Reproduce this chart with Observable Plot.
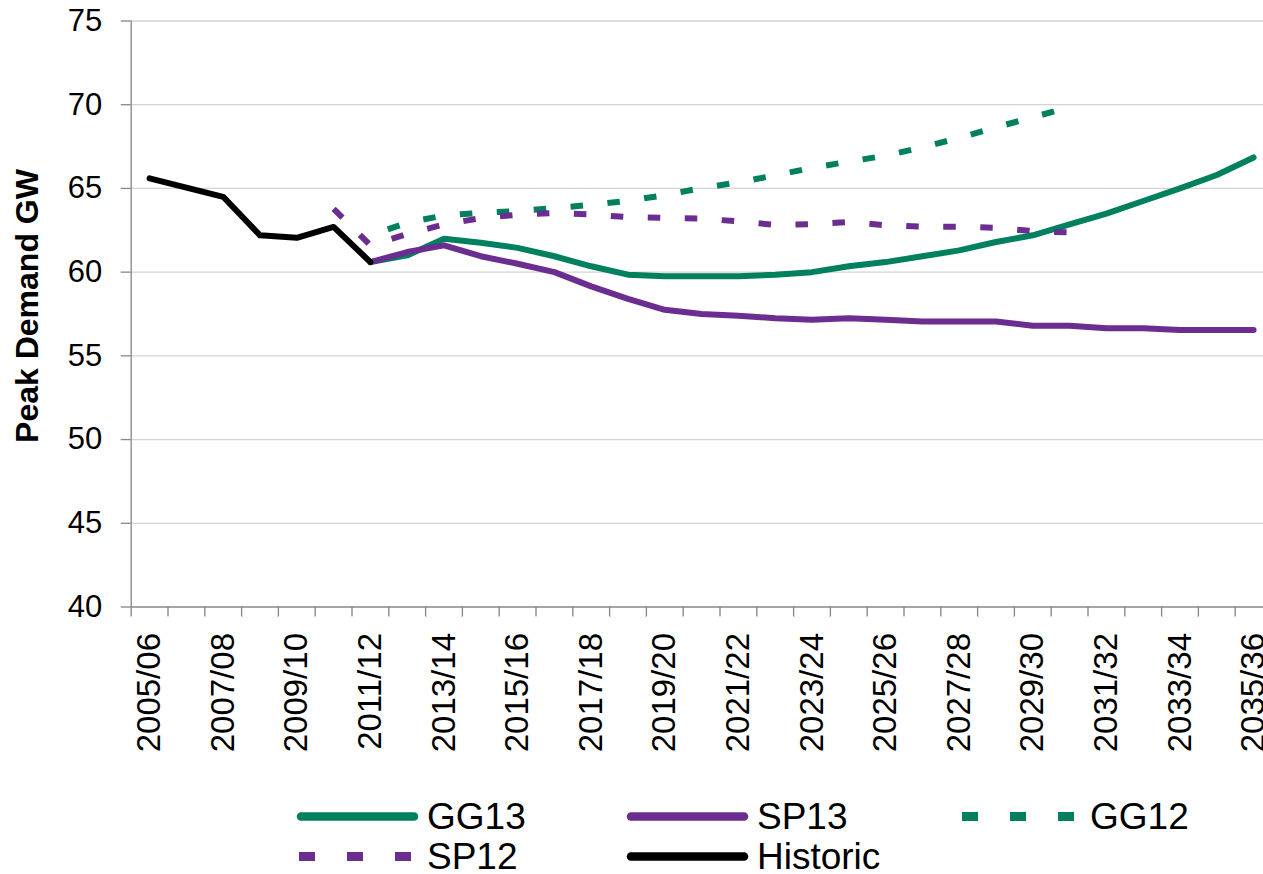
<!DOCTYPE html>
<html>
<head>
<meta charset="utf-8">
<script src="https://cdn.jsdelivr.net/npm/d3@7"></script>
<script src="https://cdn.jsdelivr.net/npm/@observablehq/plot@0.6"></script>
<style>
  html, body { margin: 0; padding: 0; background: #fff; overflow: hidden; }
  #wrap { position: relative; width: 1263px; height: 874px; font-family: "Liberation Sans", Arial, sans-serif; }
  #chart svg { display: block; overflow: visible; }
  .leg { position: absolute; display: flex; align-items: center; transform: translateY(-50%); font-size: 37px; color: #000; white-space: nowrap; line-height: 1; }
  .leg svg { display: block; margin-right: 9px; overflow: visible; }
</style>
</head>
<body>
<div id="wrap">
  <div id="chart"></div>
  <div id="legend"></div>
</div>
<script>
// ---- data ----
const categories = [
  "2005/06","2006/07","2007/08","2008/09","2009/10","2010/11","2011/12","2012/13",
  "2013/14","2014/15","2015/16","2016/17","2017/18","2018/19","2019/20","2020/21",
  "2021/22","2022/23","2023/24","2024/25","2025/26","2026/27","2027/28","2028/29",
  "2029/30","2030/31","2031/32","2032/33","2033/34","2034/35","2035/36"
];

const historic = [65.6, 65.05, 64.5, 62.2, 62.05, 62.7, 60.6,
  null, null, null, null, null, null, null, null, null, null, null, null, null,
  null, null, null, null, null, null, null, null, null, null, null];

const gg13 = [null, null, null, null, null, null,
  60.6, 61.0, 62.0, 61.75, 61.45, 60.95, 60.35, 59.85, 59.75, 59.75, 59.75, 59.85,
  60.0, 60.35, 60.6, 60.95, 61.3, 61.8, 62.2, 62.85, 63.5, 64.25, 65.0, 65.8, 66.85];

const sp13 = [null, null, null, null, null, null,
  60.6, 61.2, 61.6, 60.95, 60.5, 60.0, 59.15, 58.4, 57.75, 57.5, 57.4, 57.25,
  57.15, 57.25, 57.15, 57.05, 57.05, 57.05, 56.8, 56.8, 56.65, 56.65, 56.55, 56.55, 56.55];

const gg12 = [null, null, null, null, null, null,
  62.2, 62.95, 63.39, 63.54, 63.65, 63.82, 64.02, 64.26, 64.6, 65.02, 65.36, 65.78,
  66.23, 66.6, 66.96, 67.45, 68.02, 68.65, 69.25, 69.85,
  null, null, null, null, null];

const sp12 = [null, null, null, null, null,
  63.78, 61.6, 62.28, 62.85, 63.23, 63.43, 63.53, 63.44, 63.29, 63.24, 63.2, 63.03,
  62.82, 62.87, 62.99, 62.8, 62.71, 62.71, 62.65, 62.45, 62.37,
  null, null, null, null, null];

const yTicks = [40, 45, 50, 55, 60, 65, 70, 75];
const yTitle = "Peak Demand GW";

// series (draw order)
const seriesNames  = ["GG13", "SP13", "GG12", "SP12", "Historic"];
const seriesValues = [gg13, sp13, gg12, sp12, historic];

// ---- styles ----
const seriesColors     = ["#00805f", "#6b2d90", "#00805f", "#6b2d90", "#000000"];
const seriesDashed     = [false, false, true, true, false];
const seriesDashOffset = [0, 0, 18.7, 0, 0];
const legendLeft = [297, 627, 960, 297, 627];
const legendTop  = [816, 816, 816, 856, 856];

const axisColor = "#868686";
const gridColor = "#d3d3d3";
const font = "'Liberation Sans', Arial, sans-serif";

const xLabelIdx = categories.map((c, i) => i).filter(i => i % 2 === 0);
const boundaries = d3.range(categories.length + 1).map(i => i - 0.5);

const lineMarks = seriesValues.map((vals, k) => {
  const rows = vals.map((v, i) => ({i, v})).filter(d => d.v != null);
  return Plot.line(rows, {
    x: "i", y: "v",
    stroke: seriesColors[k],
    strokeWidth: 6,
    strokeLinejoin: "round",
    strokeLinecap: seriesDashed[k] ? "butt" : "round",
    strokeDasharray: seriesDashed[k] ? "12.5,24.5" : null,
    strokeDashoffset: seriesDashOffset[k]
  });
});

const chart = Plot.plot({
  width: 1263,
  height: 790,
  marginTop: 20.5,
  marginBottom: 183.5,
  marginLeft: 130.7,
  marginRight: 0,
  x: {domain: [-0.5, categories.length - 0.5], range: [130.7, 130.7 + 36.8 * categories.length]},
  y: {domain: [40, 75]},
  style: {fontFamily: font, background: "white", color: "black", overflow: "visible"},
  marks: [
    Plot.ruleY(yTicks.filter(t => t > 40), {stroke: gridColor, strokeWidth: 1.3}),
    Plot.axisY(yTicks, {tickSize: 10, tickPadding: 19, fontSize: 31, stroke: axisColor, strokeWidth: 1.3, label: null}),
    Plot.axisX(boundaries, {tickSize: 10, tickFormat: () => "", stroke: axisColor, strokeWidth: 1.3, label: null}),
    Plot.axisX(xLabelIdx, {tickSize: 0, tickPadding: 26, tickRotate: -90, fontSize: 33,
      tickFormat: i => categories[i], label: null}),
    Plot.ruleY([40], {stroke: axisColor, strokeWidth: 1.3}),
    Plot.ruleX([-0.5], {stroke: axisColor, strokeWidth: 1.3}),
    Plot.text([yTitle], {frameAnchor: "left", textAnchor: "middle", dx: -103.7, dy: -8, rotate: -90,
      fontSize: 32, fontWeight: "bold", fill: "black"}),
    ...lineMarks
  ]
});
document.getElementById("chart").appendChild(chart);

// ---- legend (HTML, below the SVG) ----
const legend = document.getElementById("legend");
seriesNames.forEach((name, k) => {
  const item = document.createElement("div");
  item.className = "leg";
  item.style.left = legendLeft[k] + "px";
  item.style.top = legendTop[k] + "px";
  const ns = "http://www.w3.org/2000/svg";
  const sw = document.createElementNS(ns, "svg");
  sw.setAttribute("width", 121);
  sw.setAttribute("height", 12);
  const ln = document.createElementNS(ns, "line");
  ln.setAttribute("y1", 6); ln.setAttribute("y2", 6);
  ln.setAttribute("stroke", seriesColors[k]);
  if (seriesDashed[k]) {
    ln.setAttribute("x1", 2); ln.setAttribute("x2", 121);
    ln.setAttribute("stroke-width", 9);
    ln.setAttribute("stroke-dasharray", "16,32");
  } else {
    ln.setAttribute("x1", 4); ln.setAttribute("x2", 117);
    ln.setAttribute("stroke-width", 8.5);
    ln.setAttribute("stroke-linecap", "round");
  }
  sw.appendChild(ln);
  const tx = document.createElement("span");
  tx.textContent = name;
  item.appendChild(sw);
  item.appendChild(tx);
  legend.appendChild(item);
});
</script>
</body>
</html>
